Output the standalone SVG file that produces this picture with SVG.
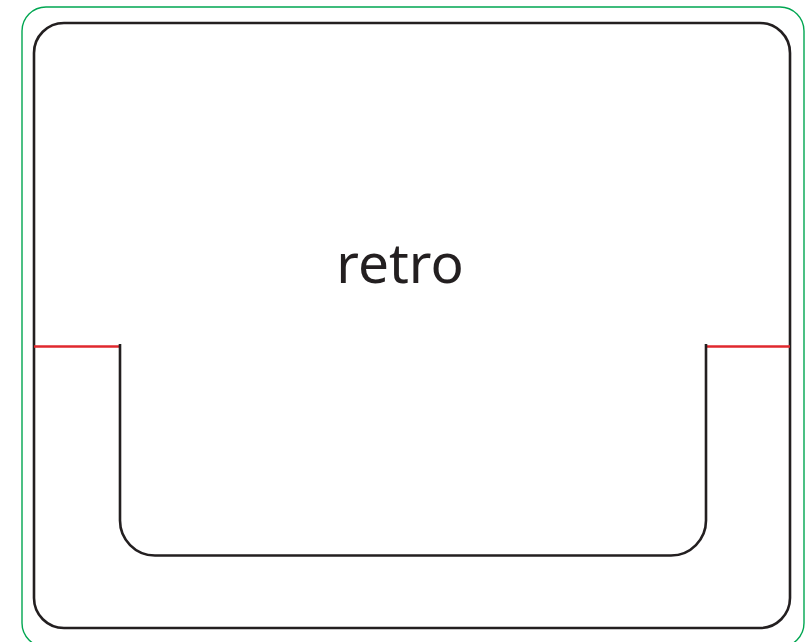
<svg xmlns="http://www.w3.org/2000/svg" width="808" height="642" viewBox="0 0 808 642">
<style>
.outer{fill:none;stroke:#00a651;stroke-width:1.4}
.frame{fill:none;stroke:#231f20;stroke-width:2.6}
.red{fill:none;stroke:#e0282e;stroke-width:2.4}
.label{font-family:"Noto Sans","Open Sans",sans-serif;font-size:55px;fill:#231f20}
</style>
<rect class="outer" x="22" y="7" width="782" height="640" rx="24"/>
<g id="frame">
<rect class="frame" x="34" y="23" width="756" height="605" rx="30"/>
<text class="label" x="400" y="283" text-anchor="middle">retro</text>
</g>
<g id="connectors">
<line class="red" x1="34" y1="346.5" x2="120" y2="346.5"/>
<line class="red" x1="706" y1="346.5" x2="790" y2="346.5"/>
</g>
<g id="tray">
<path class="frame" d="M120,344 V520 A35,35 0 0 0 155,555.5 H671 A35,35 0 0 0 706,520 V344"/>
</g>
</svg>
